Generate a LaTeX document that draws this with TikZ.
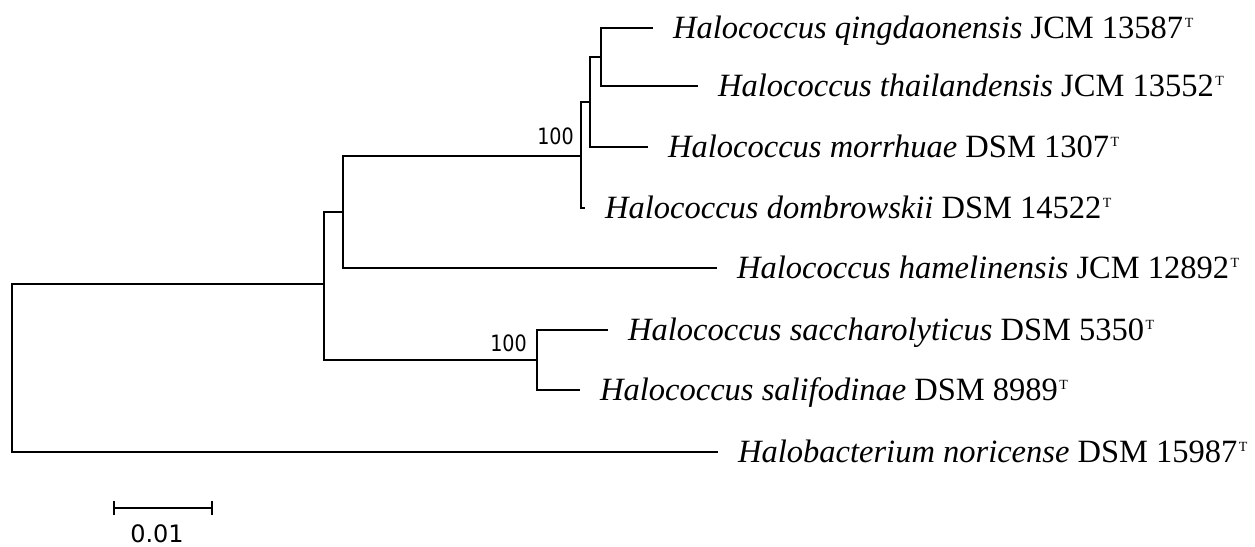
\documentclass[tikz,border=0pt]{standalone}
\usepackage{fontspec}
\setmainfont{Liberation Serif}
\newfontfamily\numfont[FakeStretch=0.85]{DejaVu Sans}
\newfontfamily\scalefont{DejaVu Sans}
\usetikzlibrary{arrows.meta}
\newcommand\typstrain{\hspace{1.5pt}\raisebox{11.5pt}{\fontsize{14}{14}\selectfont T}}
\tikzset{
  tree/.style={line width=2.2pt, line join=miter},
  taxon/.style={anchor=base west, inner sep=0pt, xshift=20pt, yshift=-10.5pt, font=\fontsize{32.5}{38}\selectfont},
  boot/.style={anchor=base east, inner sep=0pt, font=\numfont\fontsize{22.5}{26}\selectfont},
}
\begin{document}
\begin{tikzpicture}[x=1pt,y=-1pt]
\useasboundingbox (0,0) rectangle (1255,546);
% internal nodes
\coordinate (root) at (12,368);
\coordinate (A) at (324,284);
\coordinate (B) at (343,212);
\coordinate (C) at (581,156);
\coordinate (D) at (590,102);
\coordinate (E) at (601,57);
\coordinate (F) at (537,360);
% tips
\coordinate (q) at (653,28);
\coordinate (t) at (698,86);
\coordinate (m) at (648,147);
\coordinate (d) at (585,208);
\coordinate (h) at (717,268);
\coordinate (s1) at (608,330);
\coordinate (s2) at (580,390);
\coordinate (out) at (718,452);
% branches
\draw[tree] (root) |- (A);
\draw[tree] (root) |- (out);
\draw[tree] (A) |- (B);
\draw[tree] (A) |- (F);
\draw[tree] (B) |- (C);
\draw[tree] (B) |- (h);
\draw[tree] (C) |- (D);
\draw[tree] (C) |- (d);
\draw[tree] (D) |- (E);
\draw[tree] (D) |- (m);
\draw[tree] (E) |- (q);
\draw[tree] (E) |- (t);
\draw[tree] (F) |- (s1);
\draw[tree] (F) |- (s2);
% labels
\node[taxon] (lq) at (q) {\textit{Halococcus qingdaonensis} JCM 13587\typstrain};
\node[taxon] (lt) at (t) {\textit{Halococcus thailandensis} JCM 13552\typstrain};
\node[taxon] (lm) at (m) {\textit{Halococcus morrhuae} DSM 1307\typstrain};
\node[taxon] (ld) at (d) {\textit{Halococcus dombrowskii} DSM 14522\typstrain};
\node[taxon] (lh) at (h) {\textit{Halococcus hamelinensis} JCM 12892\typstrain};
\node[taxon] (ls1) at (s1) {\textit{Halococcus saccharolyticus} DSM 5350\typstrain};
\node[taxon] (ls2) at (s2) {\textit{Halococcus salifodinae} DSM 8989\typstrain};
\node[taxon] (lout) at (out) {\textit{Halobacterium noricense} DSM 15987\typstrain};
% bootstrap values
\node[boot] (bC) at (574,144) {100};
\node[boot] (bF) at (527,351) {100};
% scale bar
\coordinate (sb1) at (113,508);
\coordinate (sb2) at (213,508);
\draw[tree, line width=1.8pt, {Bar[width=14pt,line width=1.8pt]}-{Bar[width=14pt,line width=1.8pt]}] (sb1) -- (sb2);
\node[anchor=base, inner sep=0pt, font=\scalefont\fontsize{24}{28}\selectfont] (sl) at (157,542) {0.01};
\end{tikzpicture}
\end{document}
